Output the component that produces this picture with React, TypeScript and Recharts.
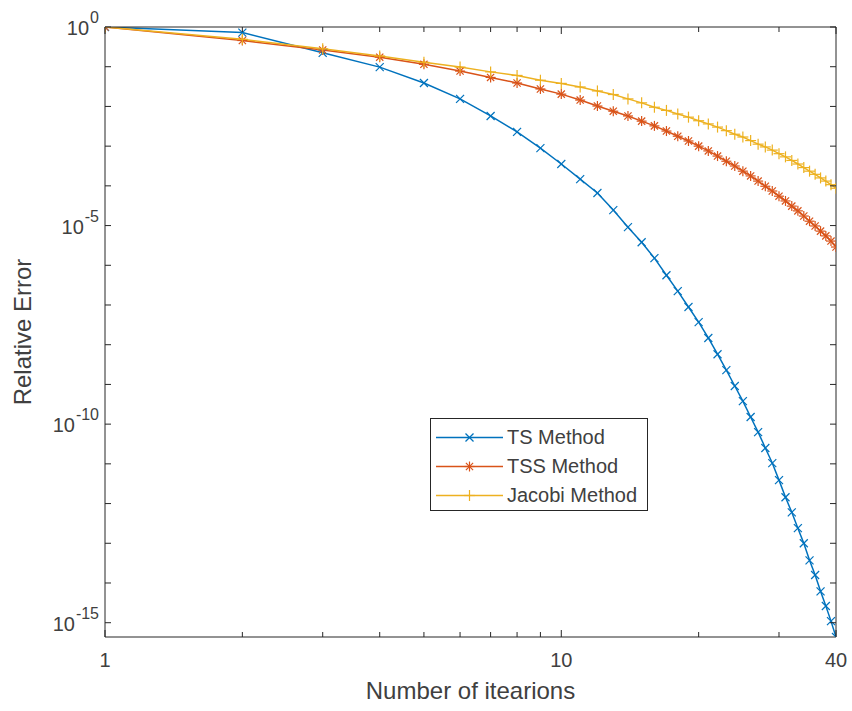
import { LineChart, Line, XAxis, YAxis, Legend } from "recharts";

// iteration count (x) and the relative error of each method as log10 values
const iterations = [
  1, 2, 3, 4, 5, 6, 7, 8, 9, 10, 11, 12, 13, 14, 15, 16, 17, 18, 19, 20,
  21, 22, 23, 24, 25, 26, 27, 28, 29, 30, 31, 32, 33, 34, 35, 36, 37, 38, 39, 40,
];
const tsLogErr = [
  0, -0.14, -0.65, -1.01, -1.41, -1.81, -2.24, -2.64, -3.05, -3.45,
  -3.83, -4.18, -4.61, -5.04, -5.42, -5.82, -6.25, -6.65, -7.05, -7.43,
  -7.83, -8.24, -8.64, -9.04, -9.42, -9.82, -10.2, -10.6, -10.98, -11.41,
  -11.84, -12.22, -12.62, -13.0, -13.43, -13.8, -14.21, -14.58, -14.96, -15.36,
];
const tssLogErr = [
  0, -0.34, -0.58, -0.76, -0.94, -1.11, -1.27, -1.41, -1.56, -1.69,
  -1.84, -1.99, -2.12, -2.24, -2.37, -2.49, -2.62, -2.75, -2.87, -3.0,
  -3.12, -3.25, -3.38, -3.5, -3.63, -3.75, -3.88, -4.01, -4.13, -4.26,
  -4.38, -4.51, -4.63, -4.76, -4.89, -5.01, -5.14, -5.26, -5.39, -5.54,
];
const jacobiLogErr = [
  0, -0.31, -0.55, -0.73, -0.89, -1.01, -1.13, -1.22, -1.34, -1.42,
  -1.51, -1.61, -1.7, -1.81, -1.91, -2.02, -2.1, -2.19, -2.27, -2.36,
  -2.44, -2.52, -2.61, -2.7, -2.77, -2.86, -2.95, -3.02, -3.1, -3.19,
  -3.27, -3.36, -3.45, -3.54, -3.63, -3.71, -3.8, -3.88, -3.97, -4.06,
];

const seriesOrder = ["ts", "tss", "jacobi"];
const xTicks = [1, 2, 3, 4, 5, 6, 7, 8, 9, 10, 20, 30, 40];
const xTickLabels = [1, 10, 40];
const yTickExps = [-15, -14, -13, -12, -11, -10, -9, -8, -7, -6, -5, -4, -3, -2, -1, 0];
const yLabelExps = [-15, -10, -5, 0];
const yMinExp = -15.36;

const data = iterations.map((it, i) => ({
  it,
  ts: 10 ** tsLogErr[i],
  tss: 10 ** tssLogErr[i],
  jacobi: 10 ** jacobiLogErr[i],
}));

const axisColor = "#262626";
const textColor = "#404040";
const font = "'Liberation Sans', Arial, sans-serif";

const colors: Record<string, string> = {
  ts: "#0072BD",
  tss: "#D95319",
  jacobi: "#EDB120",
};

const Marker = ({ kind, cx, cy, color }: any) => {
  if (cx == null || cy == null) return null;
  if (kind === "ts") {
    const r = 4;
    return (
      <g stroke={color} strokeWidth={1.2}>
        <line x1={cx - r} y1={cy - r} x2={cx + r} y2={cy + r} />
        <line x1={cx - r} y1={cy + r} x2={cx + r} y2={cy - r} />
      </g>
    );
  }
  if (kind === "tss") {
    const r = 5;
    const d = 3.6;
    return (
      <g stroke={color} strokeWidth={1.2}>
        <line x1={cx} y1={cy - r} x2={cx} y2={cy + r} />
        <line x1={cx - r} y1={cy} x2={cx + r} y2={cy} />
        <line x1={cx - d} y1={cy - d} x2={cx + d} y2={cy + d} />
        <line x1={cx - d} y1={cy + d} x2={cx + d} y2={cy - d} />
      </g>
    );
  }
  const r = 5.5;
  return (
    <g stroke={color} strokeWidth={1.2}>
      <line x1={cx} y1={cy - r} x2={cx} y2={cy + r} />
      <line x1={cx - r} y1={cy} x2={cx + r} y2={cy} />
    </g>
  );
};

const dotFor = (kind: string) => (p: any) => (
  <Marker key={`${kind}-${p.index}`} kind={kind} cx={p.cx} cy={p.cy} color={colors[kind]} />
);

const BottomTick = ({ x, y, payload }: any) => {
  const v = payload.value;
  const labelled = xTickLabels.includes(v);
  return (
    <g>
      <line x1={x} y1={y} x2={x} y2={y - (labelled ? 7 : 5)} stroke={axisColor} />
      {labelled && (
        <text x={x} y={y + 30} textAnchor="middle" fill={textColor} fontSize={20} fontFamily={font}>
          {v}
        </text>
      )}
    </g>
  );
};

const TopTick = ({ x, y, payload }: any) => {
  const labelled = xTickLabels.includes(payload.value);
  return <line x1={x} y1={y} x2={x} y2={y + (labelled ? 7 : 5)} stroke={axisColor} />;
};

const LeftTick = ({ x, y, payload }: any) => {
  const e = Math.round(Math.log10(payload.value));
  return (
    <g>
      <line x1={x} y1={y} x2={x + 6} y2={y} stroke={axisColor} />
      {yLabelExps.includes(e) && (
        <text x={x - 6} y={y + 8} textAnchor="end" fill={textColor} fontFamily={font} fontSize={20}>
          10
          <tspan dy={-12} fontSize={16} dx={1}>
            {String(e)}
          </tspan>
        </text>
      )}
    </g>
  );
};

const RightTick = ({ x, y }: any) => <line x1={x} y1={y} x2={x - 6} y2={y} stroke={axisColor} />;

const YTitle = ({ viewBox }: any) => {
  const cx = viewBox.x + 22;
  const cy = viewBox.y + viewBox.height / 2;
  return (
    <text
      x={cx}
      y={cy}
      transform={`rotate(-90 ${cx} ${cy})`}
      textAnchor="middle"
      dominantBaseline="central"
      fill={textColor}
      fontFamily={font}
      fontSize={24}
    >
      Relative Error
    </text>
  );
};

const LegendBox = ({ payload }: any) => {
  const items = [...(payload || [])].sort(
    (a: any, b: any) => seriesOrder.indexOf(a.dataKey) - seriesOrder.indexOf(b.dataKey)
  );
  return (
    <div
      style={{
        width: 218,
        height: 93,
        boxSizing: "border-box",
        border: `1px solid ${axisColor}`,
        background: "#fff",
        paddingTop: 4,
        fontFamily: font,
        fontSize: 20,
        color: textColor,
      }}
    >
      {items.map((entry: any) => (
        <div key={entry.dataKey} style={{ height: 29, display: "flex", alignItems: "center" }}>
          <svg width={76} height={29} style={{ display: "block" }}>
            <line x1={5} y1={14.5} x2={72} y2={14.5} stroke={entry.color} strokeWidth={1.5} />
            <Marker kind={entry.dataKey} cx={38.5} cy={14.5} color={entry.color} />
          </svg>
          <span style={{ lineHeight: "29px" }}>{entry.value}</span>
        </div>
      ))}
    </div>
  );
};

export default function App() {
  return (
    <div style={{ position: "absolute", left: 0, top: 0, background: "#fff" }}>
      <LineChart width={852} height={711} data={data} margin={{ top: 0, right: 0, bottom: 0, left: 0 }}>
        <XAxis
          dataKey="it"
          type="number"
          scale="log"
          domain={[1, 40]}
          allowDataOverflow
          ticks={xTicks}
          interval={0}
          height={74}
          tickSize={0}
          tickMargin={0}
          tick={<BottomTick />}
          axisLine={{ stroke: axisColor }}
          label={{
            value: "Number of itearions",
            position: "insideBottom",
            offset: 12,
            fill: textColor,
            fontSize: 24,
            fontFamily: font,
          }}
        />
        <XAxis
          xAxisId="top"
          orientation="top"
          dataKey="it"
          type="number"
          scale="log"
          domain={[1, 40]}
          allowDataOverflow
          ticks={xTicks}
          interval={0}
          height={27}
          tickSize={0}
          tickMargin={0}
          tick={<TopTick />}
          axisLine={{ stroke: axisColor }}
        />
        <YAxis
          type="number"
          scale="log"
          domain={[10 ** yMinExp, 1]}
          allowDataOverflow
          ticks={yTickExps.map((e) => 10 ** e)}
          interval={0}
          width={105}
          tickSize={0}
          tickMargin={0}
          tick={<LeftTick />}
          axisLine={{ stroke: axisColor }}
          label={<YTitle />}
        />
        <YAxis
          yAxisId="right"
          orientation="right"
          type="number"
          scale="log"
          domain={[10 ** yMinExp, 1]}
          allowDataOverflow
          ticks={yTickExps.map((e) => 10 ** e)}
          interval={0}
          width={16}
          tickSize={0}
          tickMargin={0}
          tick={<RightTick />}
          axisLine={{ stroke: axisColor }}
        />
        <Line
          type="linear"
          dataKey="ts"
          name="TS Method"
          stroke={colors.ts}
          strokeWidth={1.5}
          dot={dotFor("ts")}
          activeDot={false}
          isAnimationActive={false}
        />
        <Line
          type="linear"
          dataKey="tss"
          name="TSS Method"
          stroke={colors.tss}
          strokeWidth={1.5}
          dot={dotFor("tss")}
          activeDot={false}
          isAnimationActive={false}
        />
        <Line
          type="linear"
          dataKey="jacobi"
          name="Jacobi Method"
          stroke={colors.jacobi}
          strokeWidth={1.5}
          dot={dotFor("jacobi")}
          activeDot={false}
          isAnimationActive={false}
        />
        <Legend
          layout="vertical"
          align="center"
          verticalAlign="middle"
          content={<LegendBox />}
          wrapperStyle={{ left: 430, top: 418, width: 218, height: 93 }}
        />
      </LineChart>
    </div>
  );
}
